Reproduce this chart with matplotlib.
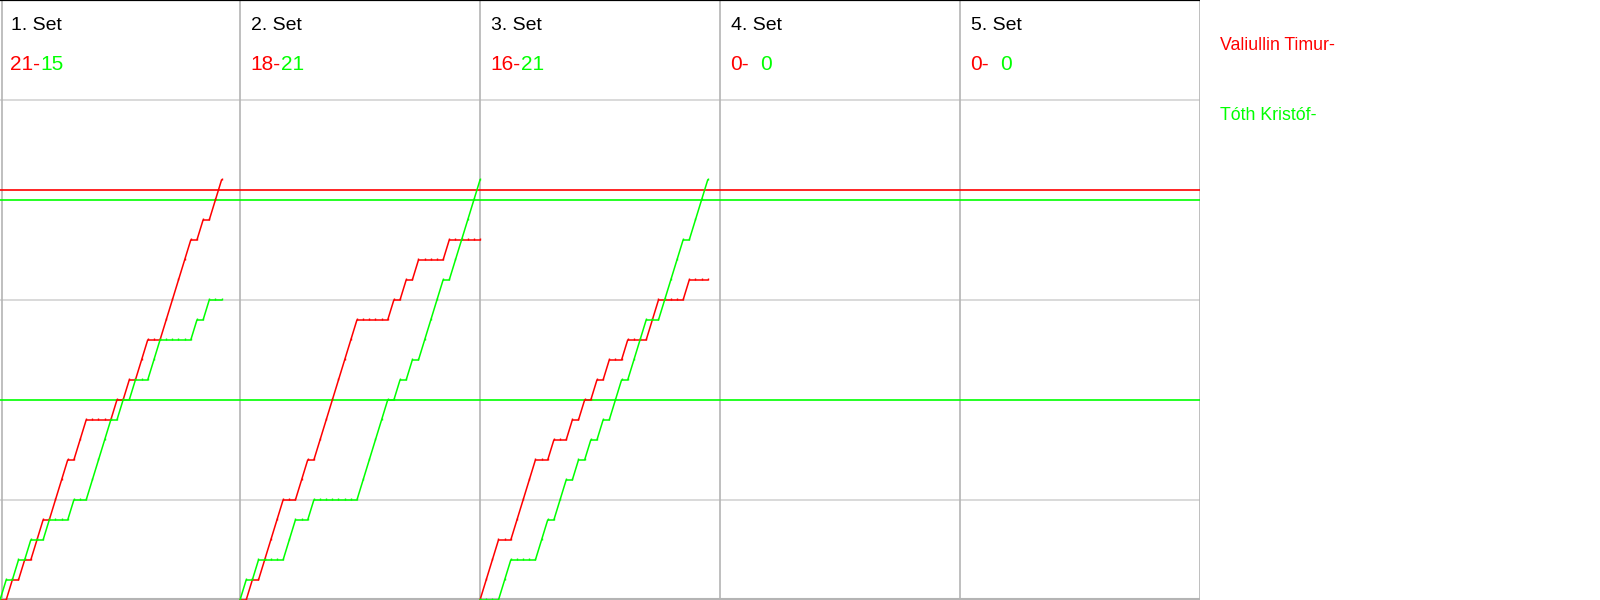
import numpy as np
import matplotlib.pyplot as plt

plt.rcParams['font.family'] = ['Liberation Sans', 'DejaVu Sans']

# rally winners per set: R = Valiullin Timur (red), G = Tóth Kristóf (green)
set_rallies = [
    "GRGRGRRGRRRGRRGGGGRGRGRRGGRRRRRGRGRR",
    "GRGRRRRGGRRGRRRRRRRGGGGGRGRGRGGGGRGGGGG",
    "RRRGGRRRRGGRGGRGRGRGRGGRGGGRRGGGGRGGG",
    "",
    "",
]
set_titles = ["1. Set", "2. Set", "3. Set", "4. Set", "5. Set"]
red_scores = [21, 18, 16, 0, 0]
green_scores = [15, 21, 21, 0, 0]
players = ["Valiullin Timur-", "Tóth Kristóf-"]
red_lines = [20.5]
green_lines = [10, 20]

RED = '#ff0000'
GREEN = '#00ff00'
W = 39.0  # rallies per panel width
n_sets = len(set_titles)

fig = plt.figure(figsize=(16, 6), dpi=100)
ax = fig.add_axes([0, 0, 0.75, 1])
ax.set_xlim(0, n_sets * W)
ax.set_ylim(0, 30)
ax.axis('off')

# grid
for y in [5, 15, 25]:
    ax.axhline(y, color='#d3d3d3', lw=1.2, zorder=1)
ax.axhline(0.05, color='#b4b4b4', lw=1.5, zorder=1)
for i in range(n_sets + 1):
    ax.axvline(max(i * W, 0.3), color='#b4b4b4', lw=1.2, zorder=1)
ax.axhline(29.98, color='black', lw=1.6, zorder=3)

for y in red_lines:
    ax.axhline(y, color=RED, lw=1.2, zorder=2)
for y in green_lines:
    ax.axhline(y, color=GREEN, lw=1.2, zorder=2)

# score progressions
for i, seq in enumerate(set_rallies):
    if not seq:
        continue
    wins = np.array([c == 'R' for c in seq])
    red = np.concatenate([[0], np.cumsum(wins)])
    green = np.concatenate([[0], np.cumsum(~wins)])
    x = i * W + np.arange(len(seq) + 1)
    ax.plot(x, red, color=RED, lw=1.1, zorder=4,
            marker=2, markersize=1.5, markevery=1)
    ax.plot(x, green, color=GREEN, lw=1.1, zorder=4,
            marker=2, markersize=1.5, markevery=1)

# texts
for i in range(n_sets):
    px = i * 240
    fig.text((px + 11) / 1600, 1 - 30 / 600, set_titles[i], fontsize=14,
             color='black', va='baseline', ha='left')
    fig.text((px + 10) / 1600, 1 - 70 / 600, f"{red_scores[i]}-", fontsize=15,
             color=RED, va='baseline', ha='left')
    fig.text((px + 40.5) / 1600, 1 - 70 / 600, f"{green_scores[i]}", fontsize=15,
             color=GREEN, va='baseline', ha='left')

fig.text(1220 / 1600, 1 - 50 / 600, players[0], fontsize=12.8, color=RED,
         va='baseline', ha='left')
fig.text(1220 / 1600, 1 - 120 / 600, players[1], fontsize=12.8, color=GREEN,
         va='baseline', ha='left')

fig.savefig('out.png', dpi=100)
